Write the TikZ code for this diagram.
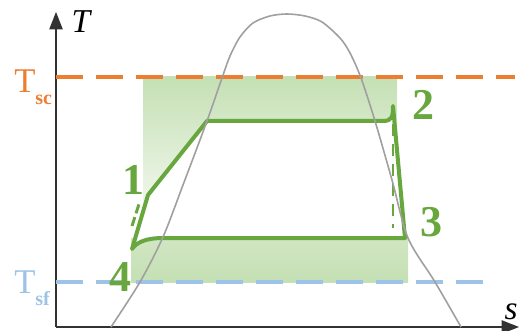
\documentclass[tikz,border=0pt]{standalone}
\usepackage{fontspec}
\setmainfont{Liberation Serif}
\usetikzlibrary{arrows.meta}

\definecolor{cyclegreen}{RGB}{104,166,62}
\definecolor{shadegreen}{RGB}{197,224,180}
\definecolor{hotorange}{RGB}{237,125,49}
\definecolor{coldblue}{RGB}{157,195,230}
\definecolor{bellgray}{RGB}{160,160,160}
\definecolor{axisgray}{RGB}{50,50,50}

\begin{document}
\begin{tikzpicture}[
    x=0.75pt, y=-0.75pt,
    axis/.style={draw=axisgray, line width=0.9pt, -{Triangle[length=13pt, width=10pt]}},
    level/.style={line width=2.4pt, dash pattern=on 20pt off 10pt},
    bell/.style={draw=bellgray, line width=1.2pt},
    cyclepath/.style={draw=cyclegreen, line width=3pt, line join=round, fill=white},
    ideal/.style={draw=cyclegreen, line width=2.2pt, dash pattern=on 9pt off 6pt},
    state/.style={text=cyclegreen, inner sep=0pt, font=\bfseries\fontsize{33}{33}\selectfont},
    axlabel/.style={inner sep=0pt, font=\itshape\fontsize{25}{25}\selectfont}
]
\useasboundingbox (0,0) rectangle (520,331);

% Axes
\coordinate (O) at (56,327);
\coordinate (Ttip) at (56,12);
\coordinate (stip) at (519,327);
\draw[axis] (O) -- (Ttip);
\draw[axis] (O) -- (stip);
\node[axlabel] (Tlab) at (81,22) {T};
\node[axlabel] (slab) at (511,312) {s};

% Shaded band between the two temperatures
\shade[top color=shadegreen, bottom color=white] (143,77) rectangle (397,250);
\shade[top color=shadegreen!80, bottom color=shadegreen] (131,238) rectangle (408,282);

% Source and sink temperatures
\coordinate (sc-a) at (56,77);
\coordinate (sc-b) at (515,77);
\coordinate (sf-a) at (56,282);
\coordinate (sf-b) at (486,282);
\draw[level, hotorange] (sc-a) -- (sc-b);
\draw[level, coldblue] (sf-a) -- (sf-b);
\node[anchor=base west, inner sep=0pt, text=hotorange, font=\fontsize{26}{26}\selectfont] (Tsc) at (14,93)
    {T\raisebox{-9pt}{\bfseries\fontsize{15}{15}\selectfont sc}};
\node[anchor=base west, inner sep=0pt, text=coldblue, font=\fontsize{26}{26}\selectfont] (Tsf) at (14,293)
    {T\raisebox{-9pt}{\bfseries\fontsize{15}{15}\selectfont sf}};

% Cycle
\coordinate (p1) at (148,195);
\coordinate (p2) at (393,106);
\coordinate (p3) at (405,238);
\coordinate (p4) at (132,249);
\coordinate (c12) at (207,121);
\draw[cyclepath] (p4) -- (p1) -- (c12) -- (383,121)
    .. controls (392,121) and (393,117) .. (p2)
    -- (p3) -- (164,238)
    .. controls (146,238) and (137,242) .. (p4) -- cycle;
\draw[ideal] (393,124) -- (393,228);
\draw[ideal, dash pattern=on 7pt off 3pt] (132,226) -- (139,204);

% Saturation dome
\draw[bell] plot[smooth, tension=0.5] coordinates {(111,327) (140,282) (163,237) (183,185) (207,121)
    (222,78) (230,56) (240,37) (253,23) (270,16) (287,14) (305,16) (322,22) (340,38) (350,53)
    (361,78) (375,121) (392,180) (408,238) (435,282) (461,327)};

% State labels
\node[state] (n1) at (133,180) {1};
\node[state] (n2) at (423,105) {2};
\node[state] (n3) at (431,222) {3};
\node[state] (n4) at (120,277) {4};

\end{tikzpicture}
\end{document}
